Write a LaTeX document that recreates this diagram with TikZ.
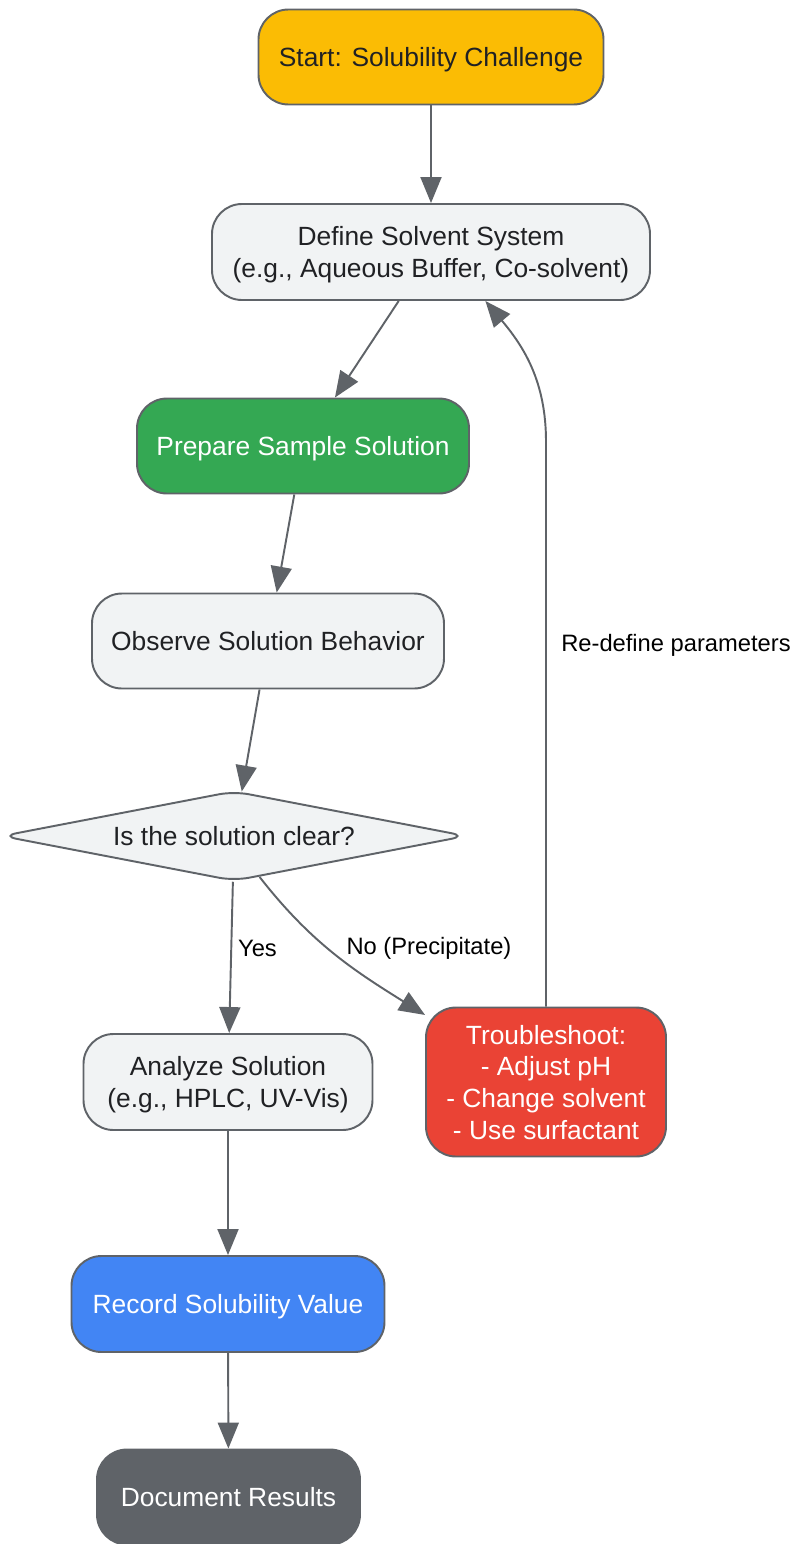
\documentclass[tikz,border=0pt]{standalone}
\usepackage{fontspec}
\setmainfont{Liberation Sans}
\usepackage{tikz}
\usepackage{xcolor}
\usetikzlibrary{shapes.geometric,arrows.meta}
\definecolor{edgegray}{HTML}{5F6368}
\definecolor{textdark}{HTML}{202124}
\definecolor{paleface}{HTML}{F1F3F4}
\definecolor{startyellow}{HTML}{FBBC04}
\definecolor{prepgreen}{HTML}{34A853}
\definecolor{fixred}{HTML}{EA4335}
\definecolor{recblue}{HTML}{4285F4}

\begin{document}
\begin{tikzpicture}[
  box/.style={draw=edgegray,line width=1.1pt,rounded corners=0.6cm,align=center,
    font=\fontsize{15}{18}\selectfont,text=textdark,inner sep=0pt,text depth=0pt},
  decide/.style={diamond,draw=edgegray,line width=1.1pt,fill=paleface,aspect=5.1,
    rounded corners=0.3cm,inner sep=0pt,font=\fontsize{15}{18}\selectfont,text=textdark},
  flow/.style={draw=edgegray,line width=1.1pt,-{Triangle[length=0.52cm,width=0.42cm]}},
  lbl/.style={font=\fontsize{13.5}{16}\selectfont,text=black}]
\useasboundingbox (0,0) rectangle (15.88,-30.88);
\node[box,fill=startyellow,minimum width=6.9cm,minimum height=1.9cm] (start) at (8.62,-1.14) {Start: Solubility Challenge};
\node[box,fill=paleface,minimum width=8.76cm,minimum height=1.92cm] (define) at (8.62,-5.04) {Define Solvent System\\(e.g., Aqueous Buffer, Co-solvent)};
\node[box,fill=prepgreen,text=white,minimum width=6.64cm,minimum height=1.9cm] (prepare) at (6.06,-8.92) {Prepare Sample Solution};
\node[box,fill=paleface,minimum width=7.04cm,minimum height=1.9cm] (observe) at (5.36,-12.82) {Observe Solution Behavior};
\node[decide,minimum width=9.3cm,minimum height=1.8cm] (decision) at (4.68,-16.72) {Is the solution clear?};
\node[box,fill=paleface,minimum width=5.78cm,minimum height=1.92cm] (analyze) at (4.56,-21.64) {Analyze Solution\\(e.g., HPLC, UV-Vis)};
\node[box,fill=fixred,text=white,minimum width=4.8cm,minimum height=2.98cm] (trouble) at (10.92,-21.64) {Troubleshoot:\\- Adjust pH\\- Change solvent\\- Use surfactant};
\node[box,fill=recblue,text=white,minimum width=6.26cm,minimum height=1.92cm] (record) at (4.56,-26.08) {Record Solubility Value};
\node[box,fill=edgegray,text=white,minimum width=5.26cm,minimum height=1.9cm] (results) at (4.57,-29.94) {Document Results};

\draw[flow] (start) -- (define);
\draw[flow] (define) -- (prepare);
\draw[flow] (prepare) -- (observe);
\draw[flow] (observe) -- (decision);
\draw[flow] (decision) -- node[lbl,right,pos=0.44] {Yes} (analyze);
\draw[flow] (decision.-58) to[out=-52,in=148] (trouble.151);
\node[lbl] (nolabel) at (8.58,-18.97) {No (Precipitate)};
\draw[flow] (trouble.north) -- ++(0,11.3) to[out=90,in=-50] (define.-42);
\node[lbl] (backlabel) at (13.52,-12.9) {Re-define parameters};
\draw[flow] (analyze) -- (record);
\draw[flow] (record) -- (results);
\end{tikzpicture}
\end{document}
